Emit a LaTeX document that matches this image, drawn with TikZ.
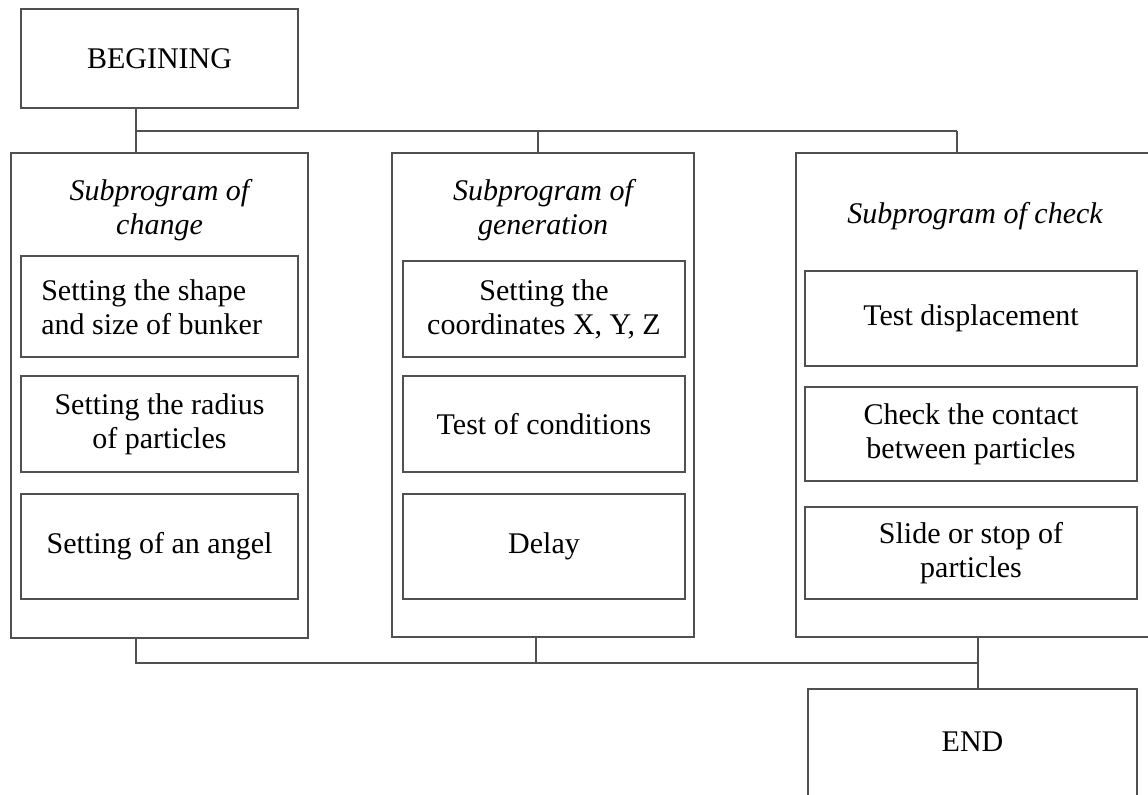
\documentclass[tikz,border=0pt]{standalone}
\usepackage{fontspec}
\setmainfont{Liberation Serif}
\definecolor{linec}{RGB}{80,80,80}
\tikzset{
  x=0.75pt, y=-0.75pt,
  box/.style 2 args={draw=linec, line width=1.1pt, minimum width=#1*0.75pt, minimum height=#2*0.75pt, inner sep=0pt, outer sep=0pt, align=center},
  txt/.style={inner sep=0pt, align=center},
  conn/.style={draw=linec, line width=1.1pt},
}
\begin{document}
\begin{tikzpicture}
\fontsize{22.5}{25.5}\selectfont
\useasboundingbox (0,0) rectangle (1148,794);
\clip (0,0) rectangle (1148,794);
% top box
\node[box={277}{99}] (begin) at (159.5,58.5) {BEGINING};
% outer boxes
\node[box={297}{485}] (left) at (159.5,395.5) {};
\node[box={302}{484}] (mid) at (543,395) {};
\node[box={360}{484}] (right) at (976,395) {};
% headers
\node[txt] (lefthead) at (159.5,210) {\itshape Subprogram of\\\itshape change};
\node[txt] (midhead) at (543,210) {\itshape Subprogram of\\\itshape generation};
\node[txt] (righthead) at (975,216) {\itshape Subprogram of check};
% left inner
\node[box={277}{101}] (l1) at (159.5,306.5) {};
\node[txt, align=left, anchor=west] (l1text) at (41,307) {Setting the shape\\and size of bunker};
\node[box={277}{96}] (l2) at (159.5,424) {Setting the radius\\of particles};
\node[box={277}{105}] (l3) at (159.5,546.5) {Setting of an angel};
% middle inner
\node[box={282}{96}] (m1) at (544,309) {Setting the\\coordinates X, Y, Z};
\node[box={282}{96}] (m2) at (544,424) {Test of conditions};
\node[box={282}{105}] (m3) at (544,546.5) {Delay};
% right inner
\node[box={332}{95}] (r1) at (971,318.5) {Test displacement};
\node[box={332}{94}] (r2) at (971,434) {Check the contact\\between particles};
\node[box={332}{92}] (r3) at (971,553) {Slide or stop of\\particles};
% end box
\node[box={329}{150}] (endbox) at (972.5,764) {};
\node[txt] (endtext) at (972.5,742) {END};
% connectors
\coordinate (t1) at (136,131);
\coordinate (t2) at (538,131);
\coordinate (t3) at (957,131);
\coordinate (b1) at (136,663);
\coordinate (b2) at (536,663);
\coordinate (b3) at (978,663);
\draw[conn] (begin.south -| t1) -- (t1 |- left.north);
\draw[conn] (t1) -- (t3);
\draw[conn] (t2) -- (t2 |- mid.north);
\draw[conn] (t3) -- (t3 |- right.north);
\draw[conn] (left.south -| b1) -- (b1) -- (b3);
\draw[conn] (mid.south -| b2) -- (b2);
\draw[conn] (right.south -| b3) -- (endbox.north -| b3);
\end{tikzpicture}
\end{document}
